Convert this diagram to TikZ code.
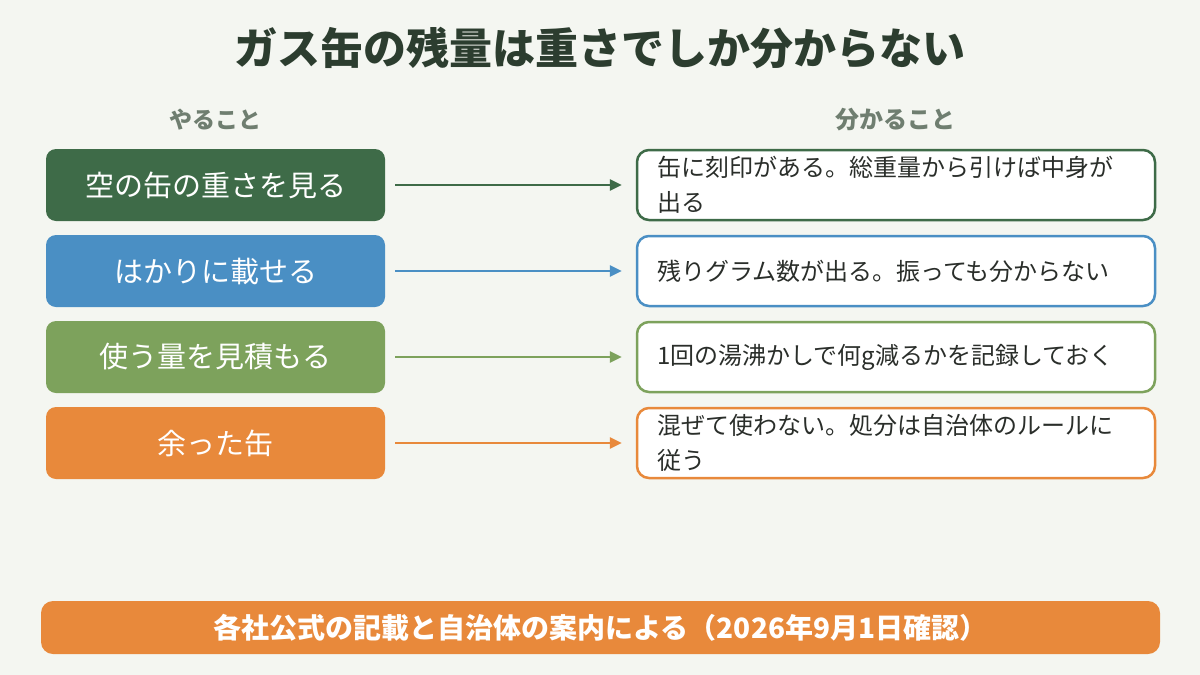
\documentclass[tikz,border=0pt]{standalone}
\usepackage{fontspec}
\setmainfont{Noto Sans CJK JP}
\usetikzlibrary{arrows.meta}
\definecolor{bg}{HTML}{F4F6F1}
\definecolor{titlec}{HTML}{2C3D2F}
\definecolor{headc}{HTML}{6F7E70}
\definecolor{cA}{HTML}{3E6B48}
\definecolor{cB}{HTML}{4A8FC4}
\definecolor{cC}{HTML}{7DA25C}
\definecolor{cD}{HTML}{E8893B}
\definecolor{txt}{HTML}{2A2E2A}
\tikzset{
  doit/.style={fill=#1, draw=none, rounded corners=10pt, minimum width=339pt, minimum height=72pt,
    text=white, font=\fontsize{29}{34}\selectfont, inner sep=0pt},
  result/.style={fill=white, draw=#1, line width=2.5pt, rounded corners=12pt, minimum width=518pt, minimum height=70pt,
    text=txt, font=\fontsize{24}{35}\selectfont, text width=478pt, align=left, inner sep=0pt},
  conn/.style={draw=#1, line width=2.5pt, -{Triangle[length=12pt,width=11pt]}, shorten <=10pt, shorten >=14pt},
  head/.style={text=headc, font=\fontsize{23}{28}\selectfont\bfseries},
}
\begin{document}
\begin{tikzpicture}[x=1pt,y=-1pt]
\fill[bg] (0,0) rectangle (1200,675);
\useasboundingbox (0,0) rectangle (1200,675);
\node[text=titlec, font=\fontsize{43}{50}\selectfont\bfseries] (title) at (600,48) {ガス缶の残量は重さでしか分からない};
\node[head] (h1) at (215.5,120) {やること};
\node[head, font=\fontsize{24}{28}\selectfont\bfseries] (h2) at (895,120) {分かること};

\node[doit=cA] (a1) at (215.5,185) {空の缶の重さを見る};
\node[doit=cB] (a2) at (215.5,271) {はかりに載せる};
\node[doit=cC] (a3) at (215.5,357) {使う量を見積もる};
\node[doit=cD] (a4) at (215.5,443) {余った缶};

\node[result=cA] (b1) at (896,185) {缶に刻印がある。総重量から引けば中身が\\出る};
\node[result=cB] (b2) at (896,271) {残りグラム数が出る。振っても分からない};
\node[result=cC] (b3) at (896,357) {1回の湯沸かしで何g減るかを記録しておく};
\node[result=cD] (b4) at (896,443) {混ぜて使わない。処分は自治体のルールに\\従う};

\draw[conn=cA] (a1) -- (b1);
\draw[conn=cB] (a2) -- (b2);
\draw[conn=cC] (a3) -- (b3);
\draw[conn=cD] (a4) -- (b4);

\node[fill=cD, rounded corners=12pt, minimum width=1119pt, minimum height=53pt, inner sep=0pt,
  text=white, font=\fontsize{28}{32}\selectfont\bfseries] (foot) at (600.5,627.5) {各社公式の記載と自治体の案内による（2026年9月1日確認）};
\end{tikzpicture}
\end{document}
